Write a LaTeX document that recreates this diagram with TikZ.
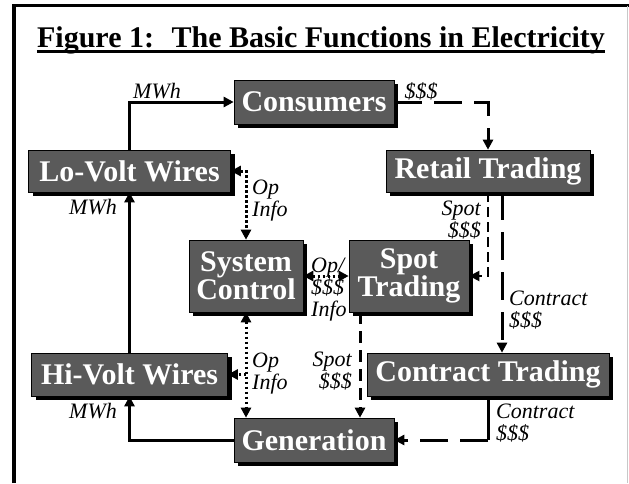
\documentclass[tikz,border=0pt]{standalone}
\usepackage{fontspec}
\setmainfont{Liberation Serif}
\usepackage{tikz}
\usetikzlibrary{arrows.meta,shadows}
\definecolor{boxgray}{HTML}{5A5A5A}
\definecolor{framegray}{HTML}{C8C8C8}
\tikzset{
  box/.style={rectangle, draw=black, line width=0.6pt, fill=boxgray, text=white, inner sep=0pt, align=center,
              font=\fontsize{30}{28}\selectfont\bfseries,
              drop shadow={shadow xshift=4pt, shadow yshift=-4pt, fill=black, opacity=1}},
  lbl/.style={font=\fontsize{22}{22}\selectfont\itshape, inner sep=0pt, align=center},
  tip/.style={-{Triangle[length=10pt,width=10pt]}},
  mwh/.style={tip, line width=3pt},
  cash/.style={tip, line width=3pt, dash pattern=on 28pt off 12pt},
  spotcash/.style={tip, line width=3pt, dash pattern=on 12pt off 7pt},
  opinfo/.style={{Triangle[length=10pt,width=10pt]}-{Triangle[length=10pt,width=10pt]},
                 line width=3pt, dash pattern=on 2.5pt off 2.5pt},
  opbranch/.style={tip, line width=3pt, dash pattern=on 2.5pt off 2.5pt},
}

\begin{document}
\begin{tikzpicture}[x=1pt, y=-1pt]
    \useasboundingbox[fill=white] (0,0) rectangle (629,483);
    \draw[line width=3.5pt] (14,483) -- (14,5.5) -- (629,5.5);
    \draw[framegray, line width=1pt] (627.5,5.5) -- (627.5,483);

    \node[font=\fontsize{30}{30}\selectfont\bfseries, inner sep=0pt, anchor=base] (title) at (321,47)
      {Figure 1:~ The Basic Functions in Electricity};
    \draw[line width=3pt] ([yshift=-4pt]title.base west) -- ([yshift=-4pt]title.base east);

    \node[box, minimum width=160pt, minimum height=44pt] (cons) at (314,102) {Consumers};
    \node[box, minimum width=202pt, minimum height=42pt] (lovolt) at (129.5,171) {Lo-Volt Wires};
    \node[box, minimum width=204pt, minimum height=42pt] (retail) at (488,171) {Retail Trading};
    \node[box, minimum width=114pt, minimum height=72pt] (sysctl) at (246,276) {System\\Control};
    \node[box, minimum width=120pt, minimum height=72pt] (spot) at (409,276) {Spot\\Trading};
    \node[box, minimum width=196pt, minimum height=43pt] (hivolt) at (129.5,374.5) {Hi-Volt Wires};
    \node[box, minimum width=242pt, minimum height=43pt] (contract) at (488,374.5) {Contract Trading};
    \node[box, minimum width=160pt, minimum height=44pt] (gen) at (314,440) {Generation};

    \draw[mwh] (lovolt.north) |- (cons.west);
    \draw[mwh] (hivolt.north) -- (lovolt.south);
    \draw[mwh] (gen.west) -| (hivolt.south);

    \draw[cash] (cons.east) -| (retail.north);
    \draw[spotcash, line width=2pt, dash pattern=on 10pt off 5pt] (retail.south) |- (spot.east);
    \draw[cash] ([xshift=14pt]retail.south) -- ([xshift=14pt]retail.south |- contract.north);
    \coordinate (cbend) at (contract.south |- gen.east);
    \draw[line width=3pt] (contract.south) -- (cbend);
    \draw[cash] (cbend) -- (gen.east);
    \draw[spotcash] ([xshift=-49pt]spot.south) -- ([xshift=-49pt]spot.south |- gen.north);

    \draw[opinfo] (lovolt.east) -| (sysctl.north);
    \draw[opinfo] (sysctl.east) -- (spot.west);
    \draw[opinfo] (sysctl.south) -- (sysctl.south |- gen.north);
    \coordinate (opjoin) at (sysctl.south |- hivolt.east);
    \draw[opbranch] (opjoin) -- (hivolt.east);

    \node[lbl] (mwhtop) at (157,91) {MWh};
    \node[lbl] (mwhmid) at (93,207) {MWh};
    \node[lbl] (mwhbot) at (93,411) {MWh};
    \node[lbl] (cashtop) at (421,91) {\$\$\$};
    \node[lbl, anchor=west, align=left] (optop) at (252,201) {Op\\Info};
    \node[lbl, anchor=east, align=right] (spottop) at (481,220) {Spot\\\$\$\$};
    \node[lbl, anchor=west, align=left] (opmid) at (311,290) {Op/\\\$\$\$\\Info};
    \node[lbl, anchor=west, align=left] (contop) at (509,310) {Contract\\\$\$\$};
    \node[lbl, anchor=west, align=left] (opbot) at (252,374) {Op\\Info};
    \node[lbl, anchor=east, align=right] (spotbot) at (352,371) {Spot\\\$\$\$};
    \node[lbl, anchor=west, align=left] (contbot) at (496,423) {Contract\\\$\$\$};
\end{tikzpicture}
\end{document}
